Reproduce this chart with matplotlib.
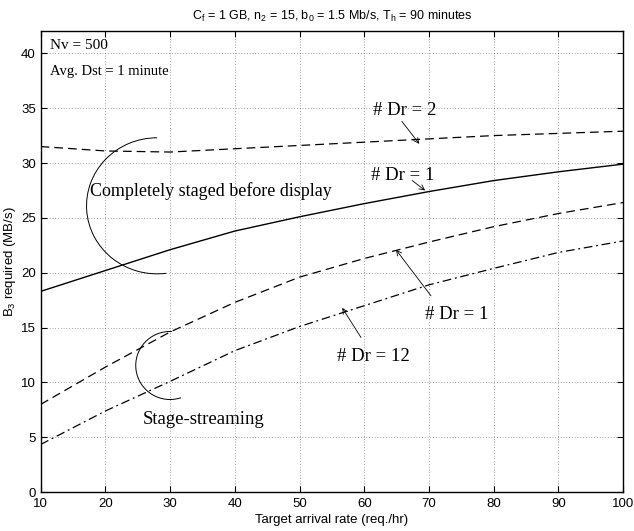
import matplotlib

matplotlib.use("Agg")
import matplotlib.pyplot as plt
from matplotlib.patches import Arc
import numpy as np

plt.rcParams["font.family"] = "Liberation Sans"
plt.rcParams["mathtext.fontset"] = "custom"
plt.rcParams["mathtext.rm"] = "Liberation Sans"
plt.rcParams["mathtext.it"] = "Liberation Sans:italic"
plt.rcParams["mathtext.default"] = "regular"

# arrival rate (req./hr)
rate = [10, 20, 30, 40, 50, 60, 70, 80, 90, 100]

# B3 required (MB/s) per configuration
staged_dr2 = [31.5, 31.1, 31.0, 31.3, 31.6, 31.9, 32.2, 32.5, 32.7, 32.9]
staged_dr1 = [18.3, 20.2, 22.1, 23.8, 25.1, 26.3, 27.4, 28.4, 29.2, 29.9]
stream_dr1 = [8.0, 11.4, 14.6, 17.3, 19.6, 21.3, 22.8, 24.2, 25.4, 26.4]
stream_dr12 = [4.35, 7.4, 10.1, 12.9, 15.1, 17.0, 18.9, 20.4, 21.85, 22.9]

title = r"C$_f$ = 1 GB, n$_2$ = 15, b$_0$ = 1.5 Mb/s, T$_h$ = 90 minutes"
serif = "Liberation Serif"

fig = plt.figure(figsize=(6.34, 5.31), dpi=100)
ax = fig.add_axes([0.064, 0.073, 0.919, 0.868])

ax.plot(rate, staged_dr2, color="black", lw=0.9, dashes=(7, 4))
ax.plot(rate, staged_dr1, color="black", lw=1.0)
ax.plot(rate, stream_dr1, color="black", lw=0.9, dashes=(7, 4))
ax.plot(rate, stream_dr12, color="black", lw=0.9, dashes=(7, 3, 1.5, 3))

ax.set_xlim(10, 100)
ax.set_ylim(0, 42)
ax.set_xticks(np.arange(10, 101, 10))
ax.set_yticks(np.arange(0, 41, 5))
ax.tick_params(direction="in", top=True, right=True, labelsize=9.5, length=4)
ax.tick_params(axis="x", pad=4)
ax.grid(True, color="black", linestyle=(0, (1, 3)), lw=0.5, alpha=0.7)
for s in ax.spines.values():
    s.set_linewidth(1.0)

ax.set_title(title, fontsize=9, pad=8)
ax.set_xlabel("Target arrival rate (req./hr)", fontsize=9.5, labelpad=3)
ax.set_ylabel(r"B$_3$ required (MB/s)", fontsize=9.5, labelpad=2)

ax.text(11.4, 40.7, "Nv = 500", family=serif, fontsize=11, va="center")
ax.text(11.4, 38.3, "Avg. Dst = 1 minute", family=serif, fontsize=10.5, va="center")
ax.text(17.6, 27.4, "Completely staged before display", family=serif, fontsize=13,
        va="center")
ax.text(25.8, 6.6, "Stage-streaming", family=serif, fontsize=13.5, va="center")

ax.add_patch(Arc((28.0, 26.1), 2 * 10.9, 2 * 6.2, theta1=90, theta2=283,
                 color="black", lw=0.7))
ax.add_patch(Arc((30.0, 11.55), 2 * 5.3, 2 * 3.1, theta1=85, theta2=300,
                 color="black", lw=0.7))

labels = [
    ("# Dr = 2", (66.2, 34.8), (65.8, 33.8), (68.5, 31.75)),
    ("# Dr = 1", (66.0, 28.9), (67.4, 28.4), (69.4, 27.5)),
    ("# Dr = 1", (74.2, 16.2), (70.3, 17.9), (64.9, 22.1)),
    ("# Dr = 12", (61.4, 12.4), (59.5, 14.1), (56.6, 16.8)),
]
for txt, pos, start, tip in labels:
    ax.text(*pos, txt, family=serif, fontsize=13.5, ha="center", va="center")
    ax.annotate("", xy=tip, xytext=start,
                arrowprops=dict(arrowstyle="->", lw=0.6, color="black",
                                shrinkA=0, shrinkB=0, mutation_scale=9))

fig.savefig("out.png", dpi=100)
